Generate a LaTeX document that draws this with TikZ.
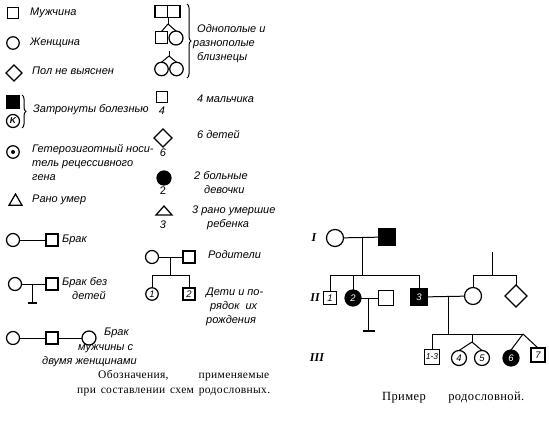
\documentclass[tikz,border=0pt]{standalone}
\usepackage{fontspec}
\setmainfont{Liberation Serif}
\newfontfamily\lab{Liberation Sans}
\newfontfamily\capfont{Liberation Serif}[LetterSpace=3]
\usetikzlibrary{shapes.geometric,decorations.pathreplacing}
\tikzset{
  sym/.style={draw, line width=1.25pt, inner sep=0pt, outer sep=0pt},
  sq/.style={sym, rectangle, minimum size=#1},
  ci/.style={sym, circle, minimum size=#1},
  dia/.style={sym, diamond, aspect=1, minimum size=#1},
  tri/.style={sym, regular polygon, regular polygon sides=3, minimum size=#1},
  ln/.style={line width=1pt},
  brc/.style={line width=1pt, decorate, decoration={brace, amplitude=4pt}},
  lt/.style={font=\lab\itshape\fontsize{11}{12}\selectfont, anchor=mid west, inner sep=0pt},
  num/.style={font=\lab\itshape\fontsize{11}{12}\selectfont, inner sep=0pt},
  inum/.style={font=\lab\itshape\fontsize{9.5}{10}\selectfont},
  captxt/.style={font=\capfont\fontsize{11.5}{13}\selectfont, anchor=mid west, inner sep=0pt},
  gen/.style={font=\bfseries\itshape\fontsize{12}{12}\selectfont, inner sep=0pt},
}
\begin{document}
\begin{tikzpicture}[x=1pt,y=-1pt]
\useasboundingbox (0,0) rectangle (549,421);
% ---------- column 1 ----------
\node[sq=11] (m) at (13,13) {};
\node[lt] (tm) at (30,13) {Мужчина};
\node[ci=12.5] (f) at (13,43) {};
\node[lt] (tf) at (30,43) {Женщина};
\node[dia=16] (u) at (14,73) {};
\node[lt] (tu) at (32,72) {Пол не выяснен};
\node[sq=13, fill=black] (am) at (13,102) {};
\node[ci=13, font=\lab\bfseries\itshape\fontsize{8.5}{9}\selectfont] (ak) at (13,121) {K};
\coordinate (b1t) at (22,95);
\coordinate (b1b) at (22,128);
\draw[brc] (b1t) -- (b1b);
\node[lt] (ta) at (33,110) {Затронуты болезнью};
\node[ci=12.5] (het) at (13,152) {};
\node[circle, fill=black, minimum size=4pt, inner sep=0pt] (hetd) at (het) {};
\node[lt] (th1) at (32,150) {Гетерозиготный носи-};
\node[lt] (th2) at (32,164) {тель рецессивного};
\node[lt] (th3) at (32,178) {гена};
\node[tri=15] (d) at (15.5,201.5) {};
\node[lt] (td) at (32,200) {Рано умер};
% marriage
\node[ci=13] (b1f) at (13,240) {};
\node[sq=12] (b1m) at (52,240) {};
\draw[ln] (b1f) -- (b1m);
\node[lt] (tb1) at (62,240) {Брак};
% marriage without children
\node[ci=13] (b2f) at (15,284) {};
\node[sq=12] (b2m) at (52,284) {};
\draw[ln] (b2f) -- (b2m);
\coordinate (b2c) at (32,284);
\coordinate (b2e) at (32,303);
\coordinate (b2l) at (27.5,303);
\coordinate (b2r) at (36.5,303);
\draw[ln] (b2c) -- (b2e);
\draw[line width=1.5pt] (b2l) -- (b2r);
\node[lt] (tb2a) at (62,283) {Брак без};
\node[lt] (tb2b) at (72,297) {детей};
% man with two women
\node[ci=13] (b3f) at (13,338) {};
\node[sq=12] (b3m) at (52,338) {};
\node[ci=14] (b3g) at (89,338) {};
\draw[ln] (b3f) -- (b3m);
\draw[ln] (b3m) -- (b3g);
\node[lt] (tb3a) at (104,333) {Брак};
\node[lt] (tb3b) at (78,348) {мужчины с};
\node[lt] (tb3c) at (42,362) {двумя женщинами};
% ---------- column 2 ----------
\node[sq=12.5] (t1a) at (161.25,11.5) {};
\node[sq=12.5] (t1b) at (173.75,11.5) {};
\coordinate (t2s) at (168,18);
\coordinate (t2a) at (168,24);
\node[sq=12] (t2m) at (161.5,37.5) {};
\node[ci=14] (t2f) at (176,38) {};
\draw[ln] (t2s) -- (t2a);
\draw[ln] (t2a) -- (t2m.north);
\draw[ln] (t2a) -- (t2f.north);
\coordinate (t3s) at (169,51);
\coordinate (t3a) at (169,56);
\node[ci=13.5] (t3f) at (161.5,69) {};
\node[ci=13.5] (t3g) at (176.5,69) {};
\draw[ln] (t3s) -- (t3a);
\draw[ln] (t3a) -- (t3f.north);
\draw[ln] (t3a) -- (t3g.north);
\coordinate (b2t) at (187,4);
\coordinate (b2bb) at (187,78);
\draw[brc] (b2t) -- (b2bb);
\node[lt] (tt1) at (197,30) {Однополые и};
\node[lt] (tt2) at (193,44) {разнополые};
\node[lt] (tt3) at (197,58) {близнецы};
\node[sq=11] (n4) at (162,97) {};
\node[num] (n4l) at (162,111) {4};
\node[lt] (tn4) at (197,100) {4 мальчика};
\node[dia=18] (n6) at (163,138) {};
\node[num] (n6l) at (163,153) {6};
\node[lt] (tn6) at (197,136) {6 детей};
\node[ci=14, fill=black] (n2) at (164,178) {};
\node[num, font=\lab\fontsize{11}{12}\selectfont] (n2l) at (163,191) {2};
\node[lt] (tn2a) at (194,177) {2 больные};
\node[lt] (tn2b) at (204,191) {девочки};
\coordinate (n3a) at (156,215);
\coordinate (n3b) at (172,215);
\coordinate (n3c) at (164,206);
\draw[line width=1.25pt, line join=miter] (n3a) -- (n3b) -- (n3c) -- cycle;
\node[num] (n3l) at (163,225) {3};
\node[lt] (tn3a) at (192,211) {3 рано умершие};
\node[lt] (tn3b) at (207,225) {ребенка};
% parents and children
\node[ci=13] (pf) at (152,257) {};
\node[sq=12] (pm) at (189,257) {};
\draw[ln] (pf) -- (pm);
\coordinate (pj) at (170,257);
\coordinate (pk) at (170,275);
\draw[ln] (pj) -- (pk);
\node[ci=12.5, inum] (k1) at (152,294) {1};
\node[sq=12, inum] (k2) at (189,294) {2};
\draw[ln] (pk) -| (k1.north);
\draw[ln] (pk) -| (k2.north);
\node[lt] (tp) at (208,256) {Родители};
\node[lt] (tk1) at (206,293) {Дети и по-};
\node[lt] (tk2) at (210,307) {рядок\ \ их};
\node[lt] (tk3) at (206,321) {рождения};
% captions
\node[captxt] (cap1) at (98,376) {\makebox[171pt][s]{Обозначения, применяемые}};
\node[captxt] (cap2) at (77,391) {\makebox[193pt][s]{при составлении схем родословных.}};
\node[captxt, font=\capfont\fontsize{12.5}{13}\selectfont] (cap3) at (382,398) {\makebox[142pt][s]{Пример родословной.}};
% ---------- pedigree ----------
\node[gen] (g1) at (314,238) {I};
\node[gen] (g2) at (315,298) {II};
\node[gen] (g3) at (317,358) {III};
\node[ci=17] (if) at (335,238) {};
\node[sq=16, fill=black] (im) at (387,237) {};
\draw[ln] (if) -- (im);
\coordinate (ij) at (362,238);
\coordinate (ik) at (362,275);
\draw[ln] (ij) -- (ik);
\node[sq=13, inum] (s1) at (330,298) {1};
\node[ci=16, fill=black, inum, text=white] (s2) at (353,298) {2};
\node[sq=16, fill=black, inum, text=white] (s3) at (419,297) {3};
\draw[ln] (ik) -| (s1.north);
\draw[ln] (ik) -| (s2.north);
\draw[ln] (ik) -| (s3.north);
\node[sq=15] (s2m) at (386,298) {};
\draw[ln] (s2) -- (s2m);
\coordinate (s2j) at (368,298);
\coordinate (s2e) at (368,331);
\coordinate (s2l) at (362.5,331);
\coordinate (s2r) at (374.5,331);
\draw[ln] (s2j) -- (s2e);
\draw[line width=1.5pt] (s2l) -- (s2r);
\node[ci=17] (wf) at (473,296) {};
\node[dia=22] (wd) at (516,296) {};
\draw[ln] (s3) -- (wf);
\coordinate (wp) at (492,252);
\coordinate (wk) at (492,275);
\draw[ln] (wp) -- (wk);
\draw[ln] (wk) -| (wf.north);
\draw[ln] (wk) -| (wd.north);
\coordinate (cj) at (448,296);
\coordinate (ck) at (448,334);
\draw[ln] (cj) -- (ck);
\node[sq=15, font=\lab\itshape\fontsize{8.5}{9}\selectfont] (c13) at (432,357) {1-3};
\node[ci=15, inum] (c4) at (459,358) {4};
\node[ci=15, inum] (c5) at (482,358) {5};
\node[ci=16, fill=black, inum, text=white] (c6) at (511,358) {6};
\node[sq=14, inum] (c7) at (538,355) {7};
\coordinate (tw1) at (472,334);
\coordinate (tw1b) at (472,342);
\coordinate (tw2) at (523,334);
\draw[ln] (ck) -| (c13.north);
\draw[ln] (ck) -- (tw2);
\draw[ln] (tw1) -- (tw1b);
\draw[ln] (tw1b) -- (c4.north);
\draw[ln] (tw1b) -- (c5.north);
\draw[ln] (tw2) -- (c6.north);
\draw[ln] (tw2) -- (c7.north);
\end{tikzpicture}
\end{document}
